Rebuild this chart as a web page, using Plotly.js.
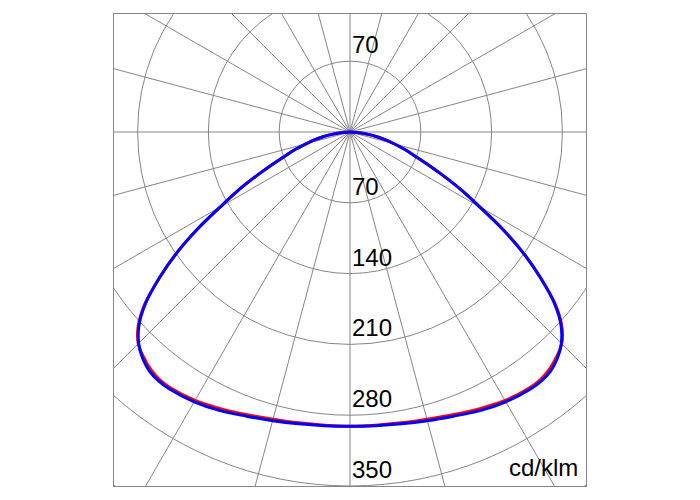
<!DOCTYPE html>
<html>
<head>
<meta charset="utf-8">
<script src="https://cdn.plot.ly/plotly-3.0.1.min.js"></script>
<style>html,body{margin:0;padding:0;background:#fff;}#chart{width:700px;height:500px;}</style>
</head>
<body>
<div id="chart"></div>
<script>
// Gamma angles (degrees from nadir) and luminous intensities (cd/klm)
const gamma = [0, 5, 10, 15, 20, 25, 30, 35, 37.5, 40, 42.5, 45, 47.5, 50, 52.5, 55, 57.5, 60, 62.5, 65, 67.5, 70, 72.5, 75, 77.5, 80, 82.5, 85, 87.5, 90];
// C90-C270 plane (blue)
const intensityBlue = [291, 291.5, 293, 295.5, 299, 304, 308, 310.5, 310.5, 308.5, 303.5, 295.5, 283, 264, 238, 210, 179, 148, 124, 101, 82, 67, 56, 45, 36, 27, 18, 9, 3, 0];
// C0-C180 plane (red)
const intensityRed = [291, 291, 292, 294, 297.5, 302, 306.5, 309, 309, 306.5, 302, 296, 284, 265, 238, 210, 179, 148, 124, 101, 82, 67, 56, 45, 36, 27, 18, 9, 3, 0];
// Radial ring values and labels
const ringValues = [70, 140, 210, 280, 350, 420, 490];
const labelValuesBelow = [70, 140, 210, 280, 350];
const labelValuesAbove = [70];
const unitLabel = 'cd/klm';

function curve(g, I) {
  const xs = [], ys = [];
  for (let i = g.length - 1; i >= 0; i--) {
    const a = g[i] * Math.PI / 180;
    xs.push(-I[i] * Math.sin(a)); ys.push(-I[i] * Math.cos(a));
  }
  for (let i = 1; i < g.length; i++) {
    const a = g[i] * Math.PI / 180;
    xs.push(I[i] * Math.sin(a)); ys.push(-I[i] * Math.cos(a));
  }
  return {x: xs, y: ys};
}

const cr = curve(gamma, intensityRed);
const cb = curve(gamma, intensityBlue);

const traces = [
  {type: 'scatter', mode: 'lines', x: cr.x, y: cr.y, line: {color: '#ff0000', width: 3, shape: 'spline', smoothing: 1}, hoverinfo: 'skip'},
  {type: 'scatter', mode: 'lines', x: cb.x, y: cb.y, line: {color: '#0000ff', width: 3, shape: 'spline', smoothing: 1}, hoverinfo: 'skip'}
];

const gridColor = '#858585';
const shapes = [];
ringValues.forEach(r => {
  shapes.push({type: 'circle', xref: 'x', yref: 'y', x0: -r, x1: r, y0: -r, y1: r, line: {color: gridColor, width: 1}, layer: 'below'});
});
for (let d = 0; d < 360; d += 15) {
  const a = d * Math.PI / 180;
  shapes.push({type: 'line', xref: 'x', yref: 'y', x0: 0, y0: 0, x1: 600 * Math.sin(a), y1: 600 * Math.cos(a), line: {color: gridColor, width: 1}, layer: 'below'});
}

const font = {family: 'Liberation Sans, Arial, sans-serif', size: 24, color: '#000'};
const annotations = [];
labelValuesBelow.forEach(v => {
  annotations.push({x: 0, y: -v, xref: 'x', yref: 'y', text: String(v), showarrow: false, xanchor: 'left', yanchor: 'bottom', xshift: 0, yshift: 1, font: font});
});
labelValuesAbove.forEach(v => {
  annotations.push({x: 0, y: v, xref: 'x', yref: 'y', text: String(v), showarrow: false, xanchor: 'left', yanchor: 'bottom', xshift: 0, yshift: 1, font: font});
});
annotations.push({x: 1, y: 0, xref: 'paper', yref: 'paper', text: unitLabel, showarrow: false, xanchor: 'right', yanchor: 'bottom', xshift: -6, yshift: 3, font: font});

const layout = {
  width: 700, height: 500,
  margin: {l: 114, r: 114, t: 14, b: 14, pad: 0},
  paper_bgcolor: '#fff', plot_bgcolor: '#fff',
  showlegend: false,
  xaxis: {range: [-233.33, 233.33], showgrid: false, zeroline: false, showticklabels: false, ticks: '', showline: true, mirror: true, linecolor: gridColor, linewidth: 1, fixedrange: true},
  yaxis: {range: [-350, 116.67], showgrid: false, zeroline: false, showticklabels: false, ticks: '', showline: true, mirror: true, linecolor: gridColor, linewidth: 1, fixedrange: true},
  shapes: shapes,
  annotations: annotations
};

Plotly.newPlot('chart', traces, layout, {staticPlot: true, displayModeBar: false});
</script>
</body>
</html>
